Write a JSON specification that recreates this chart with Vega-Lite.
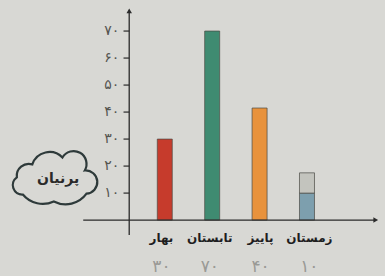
{
  "$schema": "https://vega.github.io/schema/vega-lite/v6.json",
  "width": 385,
  "height": 276,
  "padding": 0,
  "autosize": {"type": "none"},
  "background": "#d8d8d4",
  "config": {"view": {"stroke": null}},
  "datasets": {
    "bars": [
      {"season": "بهار", "pos": 1, "base": 0, "top": 30, "part": "بهار"},
      {"season": "تابستان", "pos": 2, "base": 0, "top": 70, "part": "تابستان"},
      {"season": "پاییز", "pos": 3, "base": 0, "top": 41.5, "part": "پاییز"},
      {"season": "زمستان", "pos": 4, "base": 0, "top": 10, "part": "زمستان"},
      {"season": "زمستان", "pos": 4, "base": 10, "top": 17.5, "part": "زمستان+"}
    ],
    "seasons": [
      {"season": "بهار", "pos": 0.93, "count": "۳۰"},
      {"season": "تابستان", "pos": 1.95, "count": "۷۰"},
      {"season": "پاییز", "pos": 3.02, "count": "۴۰"},
      {"season": "زمستان", "pos": 4.05, "count": "۱۰"}
    ],
    "ticks": [
      {"v": 10, "label": "۱۰"},
      {"v": 20, "label": "۲۰"},
      {"v": 30, "label": "۳۰"},
      {"v": 40, "label": "۴۰"},
      {"v": 50, "label": "۵۰"},
      {"v": 60, "label": "۶۰"},
      {"v": 70, "label": "۷۰"}
    ],
    "name": [{"name": "پرنیان"}]
  },
  "layer": [
    {
      "data": {"name": "bars"},
      "mark": {"type": "bar", "size": 15, "stroke": "#4a4a44", "strokeWidth": 1, "strokeOpacity": 0.7},
      "encoding": {
        "x": {"field": "pos", "type": "quantitative", "scale": {"domain": [-2.37, 5.54], "zero": false, "nice": false}, "axis": null},
        "y": {"field": "base", "type": "quantitative", "scale": {"domain": [-20.7, 81.5], "zero": false, "nice": false}, "axis": null},
        "y2": {"field": "top"},
        "color": {
          "field": "part",
          "type": "nominal",
          "legend": null,
          "scale": {
            "domain": ["بهار", "تابستان", "پاییز", "زمستان", "زمستان+"],
            "range": ["#c63b2c", "#3f8b71", "#e8923c", "#7d9fae", "#c3c4be"]
          }
        }
      }
    },
    {
      "data": {"values": [{}]},
      "mark": {"type": "rule", "color": "#2a2a2a", "strokeWidth": 1.3},
      "encoding": {
        "x": {"datum": -0.72, "type": "quantitative", "scale": {"domain": [-2.37, 5.54], "zero": false, "nice": false}, "axis": null},
        "x2": {"datum": 5.45},
        "y": {"datum": 0, "type": "quantitative", "scale": {"domain": [-20.7, 81.5], "zero": false, "nice": false}, "axis": null}
      }
    },
    {
      "data": {"values": [{}]},
      "mark": {"type": "rule", "color": "#2a2a2a", "strokeWidth": 1.3},
      "encoding": {
        "x": {"datum": 0.25, "type": "quantitative", "scale": {"domain": [-2.37, 5.54], "zero": false, "nice": false}, "axis": null},
        "y": {"datum": -5.5, "type": "quantitative", "scale": {"domain": [-20.7, 81.5], "zero": false, "nice": false}, "axis": null},
        "y2": {"datum": 77}
      }
    },
    {
      "data": {"values": [{}]},
      "mark": {"type": "point", "shape": "triangle-up", "filled": true, "color": "#2a2a2a", "size": 30, "opacity": 1},
      "encoding": {
        "x": {"datum": 0.25, "type": "quantitative", "scale": {"domain": [-2.37, 5.54], "zero": false, "nice": false}, "axis": null},
        "y": {"datum": 77.5, "type": "quantitative", "scale": {"domain": [-20.7, 81.5], "zero": false, "nice": false}, "axis": null}
      }
    },
    {
      "data": {"values": [{}]},
      "mark": {"type": "point", "shape": "triangle-right", "filled": true, "color": "#2a2a2a", "size": 30, "opacity": 1},
      "encoding": {
        "x": {"datum": 5.45, "type": "quantitative", "scale": {"domain": [-2.37, 5.54], "zero": false, "nice": false}, "axis": null},
        "y": {"datum": 0, "type": "quantitative", "scale": {"domain": [-20.7, 81.5], "zero": false, "nice": false}, "axis": null}
      }
    },
    {
      "data": {"name": "ticks"},
      "mark": {"type": "rule", "color": "#2a2a2a", "strokeWidth": 1.2},
      "encoding": {
        "x": {"datum": 0.13, "type": "quantitative", "scale": {"domain": [-2.37, 5.54], "zero": false, "nice": false}, "axis": null},
        "x2": {"datum": 0.25},
        "y": {"field": "v", "type": "quantitative", "scale": {"domain": [-20.7, 81.5], "zero": false, "nice": false}, "axis": null}
      }
    },
    {
      "data": {"name": "ticks"},
      "mark": {"type": "text", "align": "right", "baseline": "middle", "dx": -10, "font": "DejaVu Sans", "fontSize": 14, "color": "#555550"},
      "encoding": {
        "x": {"datum": 0.25, "type": "quantitative", "scale": {"domain": [-2.37, 5.54], "zero": false, "nice": false}, "axis": null},
        "y": {"field": "v", "type": "quantitative", "scale": {"domain": [-20.7, 81.5], "zero": false, "nice": false}, "axis": null},
        "text": {"field": "label"}
      }
    },
    {
      "data": {"name": "seasons"},
      "mark": {"type": "text", "align": "center", "baseline": "middle", "font": "DejaVu Sans", "fontSize": 12, "fontWeight": "bold", "color": "#1e1e1e"},
      "encoding": {
        "x": {"field": "pos", "type": "quantitative", "scale": {"domain": [-2.37, 5.54], "zero": false, "nice": false}, "axis": null},
        "y": {"datum": -6.7, "type": "quantitative", "scale": {"domain": [-20.7, 81.5], "zero": false, "nice": false}, "axis": null},
        "text": {"field": "season"}
      }
    },
    {
      "data": {"name": "seasons"},
      "mark": {"type": "text", "align": "center", "baseline": "middle", "font": "DejaVu Sans", "fontSize": 17, "color": "#9a9a96"},
      "encoding": {
        "x": {"field": "pos", "type": "quantitative", "scale": {"domain": [-2.37, 5.54], "zero": false, "nice": false}, "axis": null},
        "y": {"datum": -17.4, "type": "quantitative", "scale": {"domain": [-20.7, 81.5], "zero": false, "nice": false}, "axis": null},
        "text": {"field": "count"}
      }
    },
    {
      "data": {"name": "name"},
      "mark": {
        "type": "point",
        "shape": "M -0.72 0.36 A 0.22 0.22 0 0 1 -0.86 -0.04 A 0.28 0.28 0 0 1 -0.5 -0.34 A 0.42 0.42 0 0 1 0.2 -0.5 A 0.3 0.3 0 0 1 0.72 -0.2 A 0.26 0.26 0 0 1 0.76 0.34 A 0.6 0.6 0 0 1 0.0 0.52 A 0.6 0.6 0 0 1 -0.72 0.36 Z",
        "size": 7400,
        "filled": false,
        "stroke": "#2e3a3a",
        "strokeWidth": 2.2,
        "opacity": 1
      },
      "encoding": {
        "x": {"datum": -1.34, "type": "quantitative", "scale": {"domain": [-2.37, 5.54], "zero": false, "nice": false}, "axis": null},
        "y": {"datum": 15.2, "type": "quantitative", "scale": {"domain": [-20.7, 81.5], "zero": false, "nice": false}, "axis": null}
      }
    },
    {
      "data": {"name": "name"},
      "mark": {"type": "text", "align": "center", "baseline": "middle", "font": "DejaVu Sans", "fontSize": 14, "fontWeight": "bold", "color": "#2a2a2a"},
      "encoding": {
        "x": {"datum": -1.25, "type": "quantitative", "scale": {"domain": [-2.37, 5.54], "zero": false, "nice": false}, "axis": null},
        "y": {"datum": 15.2, "type": "quantitative", "scale": {"domain": [-20.7, 81.5], "zero": false, "nice": false}, "axis": null},
        "text": {"field": "name"}
      }
    }
  ]
}
